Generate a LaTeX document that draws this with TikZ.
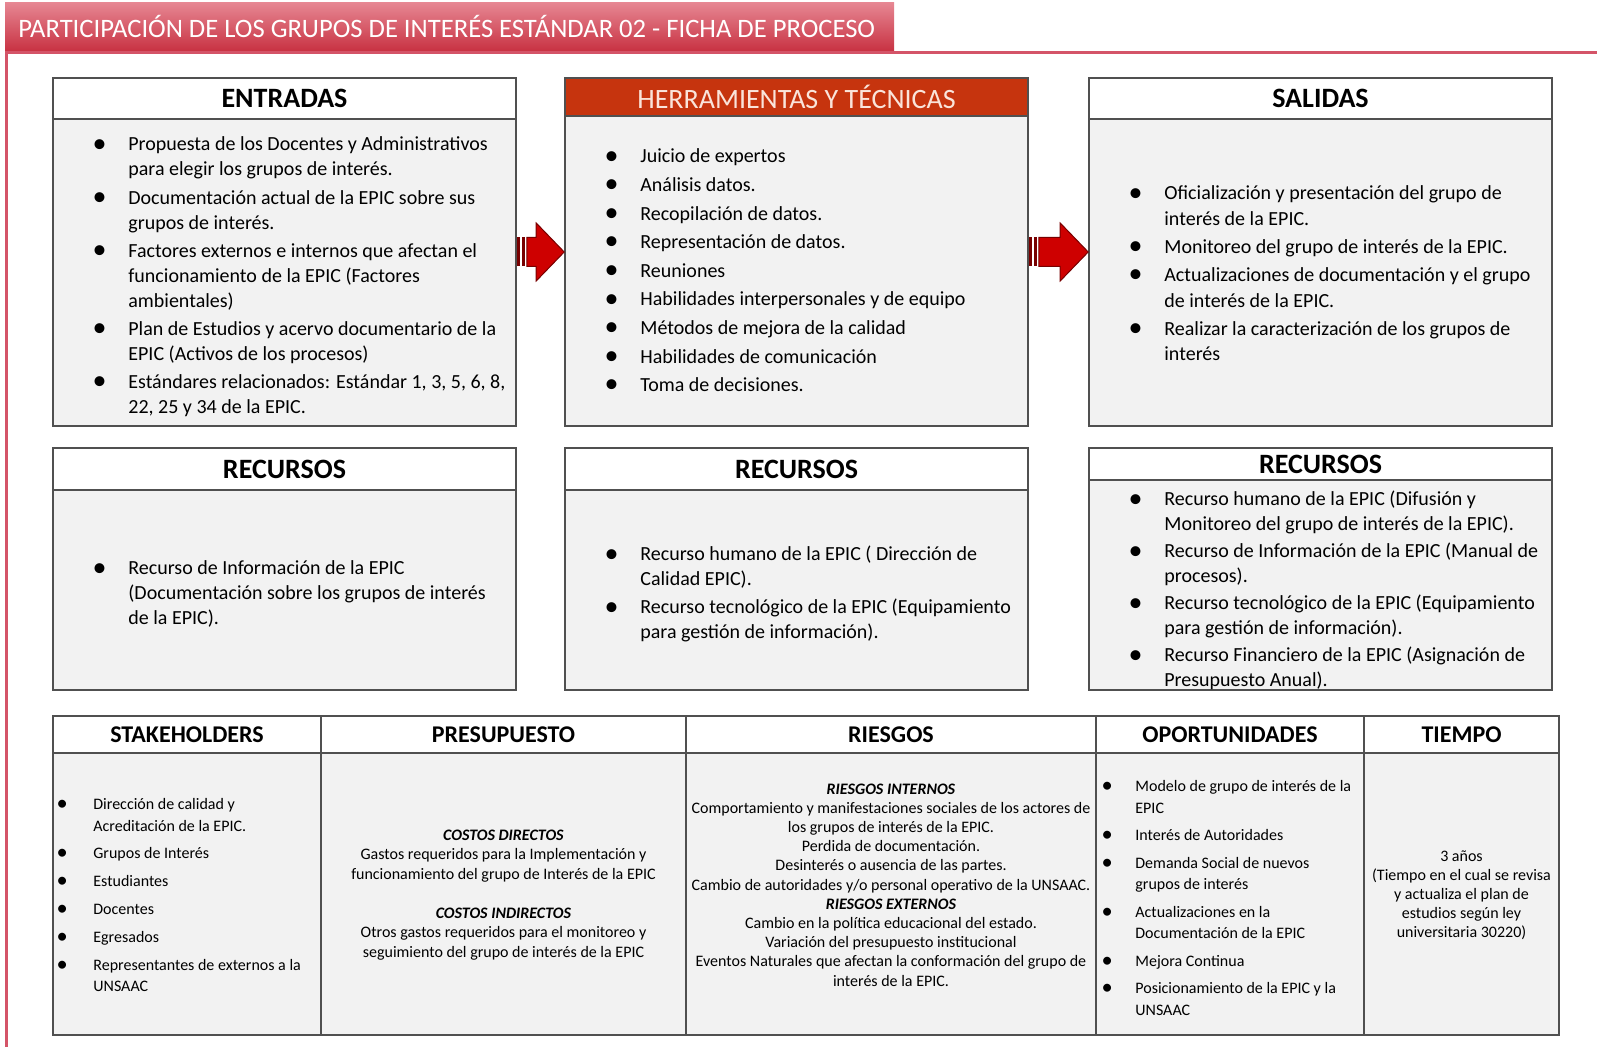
\documentclass[tikz,border=0pt]{standalone}
\usepackage{fontspec}
\setmainfont{Carlito}
\usetikzlibrary{fit,calc}
\definecolor{marco}{RGB}{212,84,104}
\definecolor{bantop}{RGB}{230,134,146}
\definecolor{banbot}{RGB}{200,50,66}
\definecolor{fondo}{RGB}{242,242,242}
\definecolor{borde}{RGB}{80,80,80}
\definecolor{herr}{RGB}{198,52,14}
\definecolor{herrtxt}{RGB}{250,228,218}
\definecolor{flecharoja}{RGB}{206,0,0}
\definecolor{flechaosc}{RGB}{120,0,0}
\newcommand\bala{\leavevmode\kern-1.4pt\raisebox{-.06em}{\scalebox{1.4}{\textbullet}}}
\newcommand\listado[1]{\begin{tabular}[t]{@{}p{16.5pt}@{}l@{}}#1\end{tabular}}
\newcommand\listadochico[1]{\begin{tabular}[t]{@{}p{17pt}@{}l@{}}#1\end{tabular}}
\newcommand\listadoopo[1]{\begin{tabular}[t]{@{}p{15.5pt}@{}l@{}}#1\end{tabular}}
\tikzset{
  cuerpo/.style={draw=borde,fill=fondo,line width=.8pt,inner sep=0pt},
  cab/.style={draw=borde,fill=white,line width=.8pt,inner sep=0pt},
  cab texto/.style={inner sep=0pt,font=\bfseries\fontsize{14}{16}\selectfont},
  cabroja/.style={cab,fill=herr},
  cabroja texto/.style={inner sep=0pt,text=herrtxt,font=\fontsize{14}{16}\selectfont},
  cabtab/.style={cab},
  cabtab texto/.style={inner sep=0pt,font=\bfseries\fontsize{12}{14}\selectfont},
  lista/.style={anchor=base west,inner sep=0pt,font=\fontsize{10}{12.5}\selectfont},
  listachica/.style={anchor=base west,inner sep=0pt,font=\fontsize{8}{10.6}\selectfont},
  centrado/.style={align=center,inner sep=0pt,font=\fontsize{8}{9.7}\selectfont},
}
% caja: nombre, x1, x2, y arriba, y cabecera, y abajo, titulo, estilo
\def\caja#1#2#3#4#5#6#7#8{\node[cuerpo,fit={(#2,#5)(#3,#6)}] (#1) {};\node[#8,fit={(#2,#4)(#3,#5)}] (#1-t) {};\node[#8 texto] (#1-tt) at (#1-t.center) {#7};}
% flecha rayada entre dos cajas
\def\flecha#1#2{\coordinate (#1-#2-a) at (#1.east |- 0,252);\coordinate (#1-#2-b) at (#2.west |- 0,252);
  \fill[flechaosc] ($(#1-#2-a)+(0,-14.5)$) rectangle ++(3.5,29);\fill[flechaosc] ($(#1-#2-a)+(5,-14.5)$) rectangle ++(3.5,29);
  \draw[fill=flecharoja,draw=flechaosc,line width=.5pt] ($(#1-#2-a)+(10,-14.5)$) -- ($(#1-#2-b)+(-28,-14.5)$) -- ($(#1-#2-b)+(-28,-29)$) -- (#1-#2-b) -- ($(#1-#2-b)+(-28,29)$) -- ($(#1-#2-b)+(-28,14.5)$) -- ($(#1-#2-a)+(10,14.5)$) -- cycle;}
\begin{document}
\begin{tikzpicture}[x=.5pt,y=-.5pt]
\useasboundingbox (0,0) rectangle (1597,1047);
% banda del titulo y marco
\draw[marco,line width=1.5pt] (1597,53) -- (6,53) -- (6,1047);
\node[fit={(5,3)(894,51)},inner sep=0pt,top color=bantop,bottom color=banbot] (ban) {};
\node[anchor=west,inner sep=0pt,text=white,font=\fontsize{13.3}{15}\selectfont] (ban-t) at (18,26) {PARTICIPACIÓN DE LOS GRUPOS DE INTERÉS ESTÁNDAR 02 - FICHA DE PROCESO};
% cajas
\caja{ent}{53}{516}{78}{119}{426}{ENTRADAS}{cab}
\caja{her}{565}{1028}{78}{116}{426}{HERRAMIENTAS Y TÉCNICAS}{cabroja}
\caja{sal}{1089}{1552}{78}{119}{426}{SALIDAS}{cab}
\caja{rec1}{53}{516}{448}{490}{690}{RECURSOS}{cab}
\caja{rec2}{565}{1028}{448}{490}{690}{RECURSOS}{cab}
\caja{rec3}{1089}{1552}{448}{480}{690}{RECURSOS}{cab}
\flecha{ent}{her}
\flecha{her}{sal}
\node[lista] (ent-l) at (95,151) {\listado{\bala & Propuesta de los Docentes y Administrativos\\ & para elegir los grupos de interés.\\[1.6pt]
\bala & Documentación actual de la EPIC sobre sus\\ & grupos de interés.\\[1.6pt]
\bala & Factores externos e internos que afectan el\\ & funcionamiento de la EPIC (Factores\\ & ambientales)\\[1.6pt]
\bala & Plan de Estudios y acervo documentario de la\\ & EPIC (Activos de los procesos)\\[1.6pt]
\bala & Estándares relacionados: Estándar 1, 3, 5, 6, 8,\\ & 22, 25 y 34 de la EPIC.}};
\node[lista,font=\fontsize{10}{14.3}\selectfont] (her-l) at (607,163) {\listado{\bala & Juicio de expertos\\ \bala & Análisis datos.\\ \bala & Recopilación de datos.\\
\bala & Representación de datos.\\ \bala & Reuniones\\ \bala & Habilidades interpersonales y de equipo\\
\bala & Métodos de mejora de la calidad\\ \bala & Habilidades de comunicación\\ \bala & Toma de decisiones.}};
\node[lista,font=\fontsize{10}{12.75}\selectfont] (sal-l) at (1131,200) {\listado{\bala & Oficialización y presentación del grupo de\\ & interés de la EPIC.\\[1.3pt]
\bala & Monitoreo del grupo de interés de la EPIC.\\[1.3pt]
\bala & Actualizaciones de documentación y el grupo\\ & de interés de la EPIC.\\[1.3pt]
\bala & Realizar la caracterización de los grupos de\\ & interés}};
\node[lista] (rec1-l) at (95,575) {\listado{\bala & Recurso de Información de la EPIC\\ & (Documentación sobre los grupos de interés\\ & de la EPIC).}};
\node[lista] (rec2-l) at (607,561) {\listado{\bala & Recurso humano de la EPIC ( Dirección de\\ & Calidad EPIC).\\[1.5pt]
\bala & Recurso tecnológico de la EPIC (Equipamiento\\ & para gestión de información).}};
\node[lista] (rec3-l) at (1131,506) {\listado{\bala & Recurso humano de la EPIC (Difusión y\\ & Monitoreo del grupo de interés de la EPIC).\\[1pt]
\bala & Recurso de Información de la EPIC (Manual de\\ & procesos).\\[1pt]
\bala & Recurso tecnológico de la EPIC (Equipamiento\\ & para gestión de información).\\[1pt]
\bala & Recurso Financiero de la EPIC (Asignación de\\ & Presupuesto Anual).}};
% tabla inferior
\foreach \a/\b/\n/\t in {53/321/stk/STAKEHOLDERS,321/686/pre/PRESUPUESTO,686/1096/rie/RIESGOS,1096/1364/opo/OPORTUNIDADES,1364/1559/tie/TIEMPO}{
  \node[cuerpo,fit={(\a,753)(\b,1035)}] (\n) {};
  \node[cabtab,fit={(\a,716)(\b,753)}] (\n-t) {};
  \node[cabtab texto] (\n-tt) at (\n-t.center) {\t};
}
\node[listachica] (stk-l) at (59,810) {\listadochico{\bala & Dirección de calidad y\\ & Acreditación de la EPIC.\\[3.3pt]
\bala & Grupos de Interés\\[3.3pt] \bala & Estudiantes\\[3.3pt] \bala & Docentes\\[3.3pt] \bala & Egresados\\[3.3pt]
\bala & Representantes de externos a la\\ & UNSAAC}};
\node[centrado,font=\fontsize{8}{9.75}\selectfont] (pre-l) at (503.5,895) {\textbf{\textit{COSTOS DIRECTOS}}\\ Gastos requeridos para la Implementación y\\ funcionamiento del grupo de Interés de la EPIC\\[9.75pt]
\textbf{\textit{COSTOS INDIRECTOS}}\\ Otros gastos requeridos para el monitoreo y\\ seguimiento del grupo de interés de la EPIC};
\node[centrado,font=\fontsize{8}{9.6}\selectfont] (rie-l) at (891,885) {\textbf{\textit{RIESGOS INTERNOS}}\\
Comportamiento y manifestaciones sociales de los actores de\\ los grupos de interés de la EPIC.\\ Perdida de documentación.\\
Desinterés o ausencia de las partes.\\ Cambio de autoridades y/o personal operativo de la UNSAAC.\\
\textbf{\textit{RIESGOS EXTERNOS}}\\ Cambio en la política educacional del estado.\\ Variación del presupuesto institucional\\
Eventos Naturales que afectan la conformación del grupo de\\ interés de la EPIC.};
\node[listachica,font=\fontsize{8}{10.8}\selectfont] (opo-l) at (1104,792) {\listadoopo{\bala & Modelo de grupo de interés de la\\ & EPIC\\[2.9pt]
\bala & Interés de Autoridades\\[2.9pt] \bala & Demanda Social de nuevos\\ & grupos de interés\\[2.9pt]
\bala & Actualizaciones en la\\ & Documentación de la EPIC\\[2.9pt] \bala & Mejora Continua\\[2.9pt]
\bala & Posicionamiento de la EPIC y la\\ & UNSAAC}};
\node[centrado,font=\fontsize{8}{9.5}\selectfont] (tie-l) at (1461.5,895) {3 años\\ (Tiempo en el cual se revisa\\ y actualiza el plan de\\ estudios según ley\\ universitaria 30220)};
\end{tikzpicture}
\end{document}
